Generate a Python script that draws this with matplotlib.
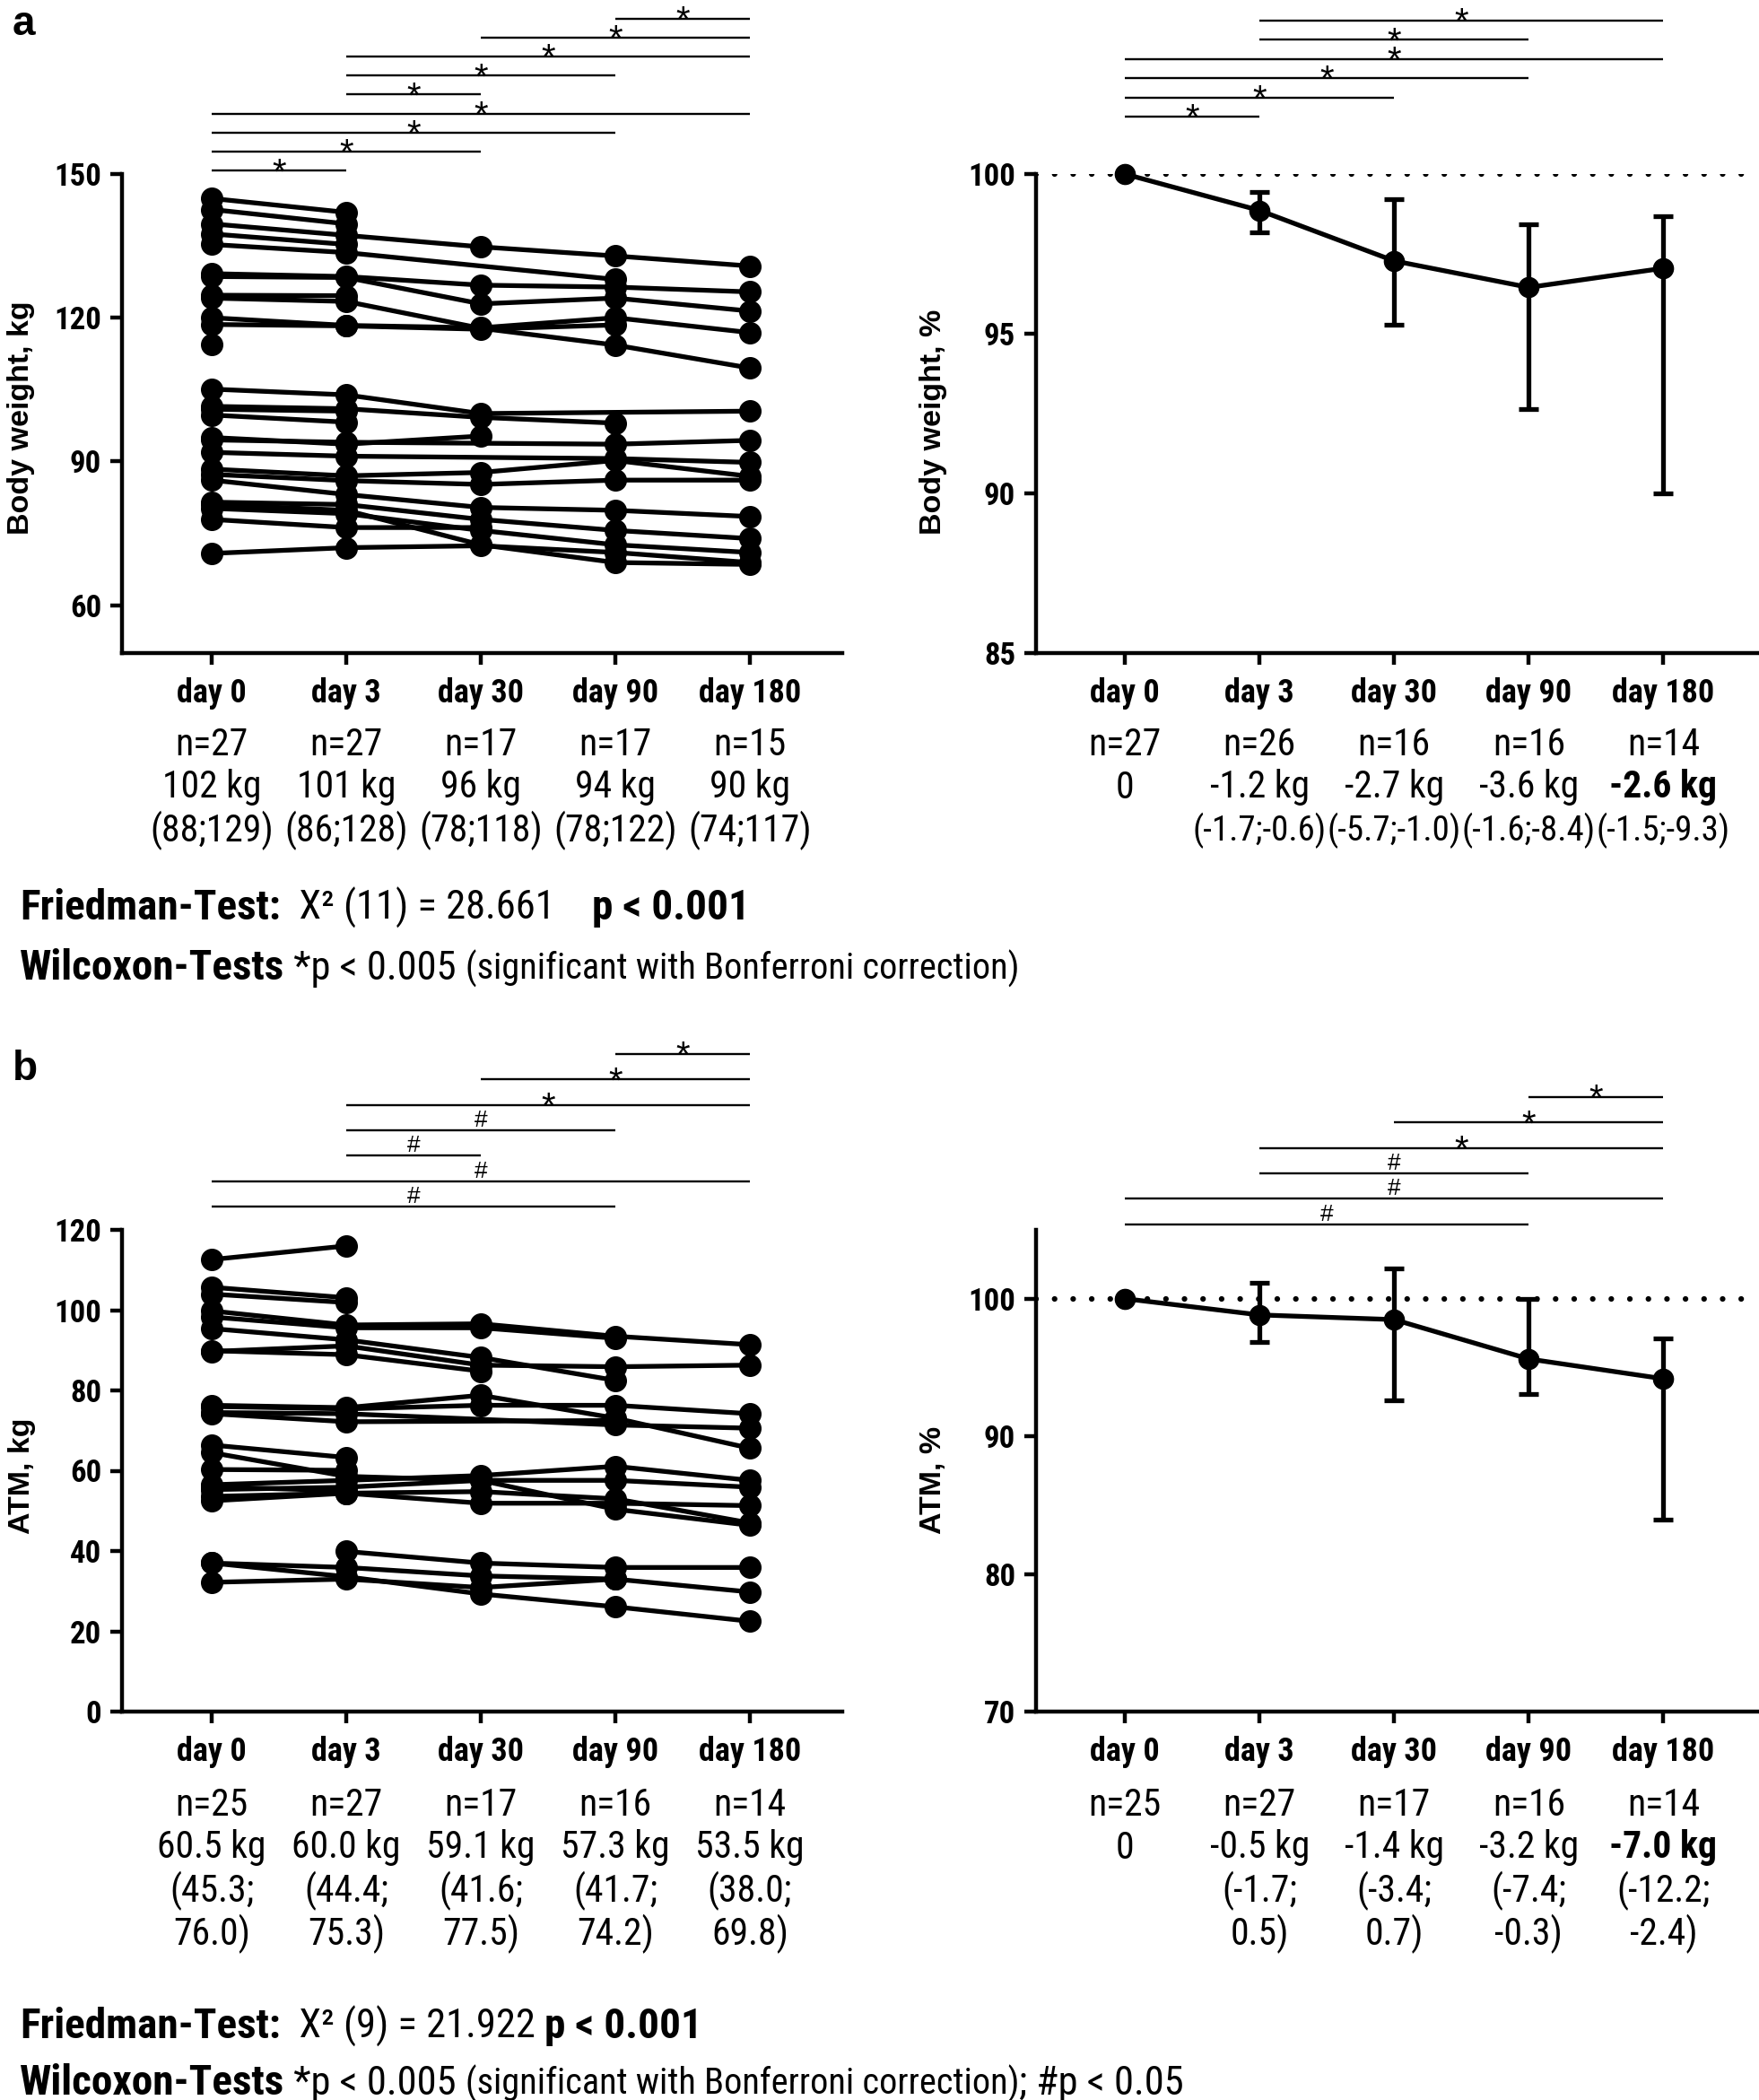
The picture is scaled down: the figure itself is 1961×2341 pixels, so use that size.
import numpy as np
import matplotlib
matplotlib.use("Agg")
import matplotlib.pyplot as plt
from matplotlib import font_manager
from matplotlib.transforms import blended_transform_factory

nan = np.nan

days = ["day 0", "day 3", "day 30", "day 90", "day 180"]

# body weight per patient, kg (day 0, 3, 30, 90, 180)
bw_kg = [
    [144.9, 142.0, nan, nan, nan],
    [142.6, 139.6, nan, nan, nan],
    [139.6, 137.2, 134.8, 132.9, 130.8],
    [137.5, 135.3, nan, nan, nan],
    [135.3, 133.6, nan, 128.0, nan],
    [129.2, 128.6, 126.8, 126.4, 125.4],
    [128.6, 128.4, 122.9, 124.1, 121.4],
    [124.7, 124.6, nan, nan, nan],
    [124.1, 123.4, 117.8, 114.3, 109.5],
    [120.0, 118.4, 117.9, 120.0, 116.9],
    [118.6, 118.3, 117.6, 118.5, nan],
    [114.5, nan, nan, nan, nan],
    [105.1, 103.9, 100.0, nan, 100.5],
    [101.5, 101.0, 99.2, 98.0, nan],
    [100.9, 100.5, nan, nan, nan],
    [99.7, 98.2, nan, nan, nan],
    [95.0, 93.6, 95.3, nan, nan],
    [94.5, 94.0, nan, 93.6, 94.4],
    [91.9, 91.1, nan, 90.6, 89.8],
    [88.4, 87.0, 87.7, 90.2, 86.9],
    [87.3, 86.0, 85.2, 86.1, 86.1],
    [86.1, 83.1, 80.4, 79.8, 78.5],
    [81.5, 81.0, 77.9, 75.6, 73.9],
    [80.2, 79.1, 75.6, 72.6, 71.0],
    [81.0, 79.8, 72.6, 68.9, 68.5],
    [77.9, 76.2, 76.2, nan, nan],
    [70.8, 72.0, 72.4, 71.0, 68.9],
]

# body weight relative to day 0, %: median and IQR bounds
bw_pct_mean = [100.0, 98.86, 97.28, 96.45, 97.05]
bw_pct_lo = [100.0, 98.18, 95.27, 92.63, 90.0]
bw_pct_hi = [100.0, 99.45, 99.22, 98.43, 98.69]

# adipose tissue mass per patient, kg
atm_kg = [
    [112.6, 116.0, nan, nan, nan],
    [105.7, 103.1, nan, nan, nan],
    [104.0, 101.9, nan, nan, nan],
    [99.8, 96.3, 96.6, 93.5, 91.4],
    [98.3, 95.6, 95.6, 93.0, nan],
    [95.4, 92.6, 88.2, 82.5, nan],
    [89.7, 91.1, 86.3, 85.9, 86.3],
    [89.9, 88.9, 84.8, nan, nan],
    [76.3, 75.7, 78.8, 73.1, 65.6],
    [76.0, 75.4, 76.3, 76.3, 74.2],
    [74.5, 74.2, nan, 71.4, 70.6],
    [74.2, 72.2, nan, 72.5, nan],
    [66.4, 63.3, nan, nan, nan],
    [64.5, 58.6, 57.6, 50.4, 46.4],
    [60.3, 60.1, nan, nan, nan],
    [56.5, 57.6, 58.8, 61.1, 57.6],
    [55.3, 55.9, 57.6, 57.6, 55.9],
    [53.6, 54.4, 54.8, 53.0, 47.0],
    [52.5, 54.4, 51.9, 51.9, 51.3],
    [56.0, 55.0, nan, nan, nan],
    [nan, 39.9, 37.0, 35.9, 35.9],
    [37.0, 35.9, 33.8, 33.0, 29.8],
    [37.0, 33.6, 29.3, 26.1, 22.5],
    [32.2, 33.0, 30.9, 33.0, nan],
]

atm_pct_mean = [100.0, 98.82, 98.48, 95.62, 94.18]
atm_pct_lo = [100.0, 96.83, 92.63, 93.1, 83.97]
atm_pct_hi = [100.0, 101.14, 102.22, 100.0, 97.1]

# table text below the panels
bw_n = ["n=27", "n=27", "n=17", "n=17", "n=15"]
bw_median = ["102 kg", "101 kg", "96 kg", "94 kg", "90 kg"]
bw_iqr = ["(88;129)", "(86;128)", "(78;118)", "(78;122)", "(74;117)"]
bw_pct_n = ["n=27", "n=26", "n=16", "n=16", "n=14"]
bw_delta = ["0", "-1.2 kg", "-2.7 kg", "-3.6 kg", "-2.6 kg"]
bw_delta_iqr = ["", "(-1.7;-0.6)", "(-5.7;-1.0)", "(-1.6;-8.4)", "(-1.5;-9.3)"]

atm_n = ["n=25", "n=27", "n=17", "n=16", "n=14"]
atm_median = ["60.5 kg", "60.0 kg", "59.1 kg", "57.3 kg", "53.5 kg"]
atm_iqr_lo = ["(45.3;", "(44.4;", "(41.6;", "(41.7;", "(38.0;"]
atm_iqr_hi = ["76.0)", "75.3)", "77.5)", "74.2)", "69.8)"]
atm_pct_n = ["n=25", "n=27", "n=17", "n=16", "n=14"]
atm_delta = ["0", "-0.5 kg", "-1.4 kg", "-3.2 kg", "-7.0 kg"]
atm_delta_lo = ["", "(-1.7;", "(-3.4;", "(-7.4;", "(-12.2;"]
atm_delta_hi = ["", "0.5)", "0.7)", "-0.3)", "-2.4)"]

# pairwise comparisons, drawn bottom to top
sig_bw_kg = [(0, 1, "*"), (0, 2, "*"), (0, 3, "*"), (0, 4, "*"), (1, 2, "*"),
             (1, 3, "*"), (1, 4, "*"), (2, 4, "*"), (3, 4, "*")]
sig_bw_pct = [(0, 1, "*"), (0, 2, "*"), (0, 3, "*"), (0, 4, "*"), (1, 3, "*"), (1, 4, "*")]
sig_atm_kg = [(0, 3, "#"), (0, 4, "#"), (1, 2, "#"), (1, 3, "#"), (1, 4, "*"), (2, 4, "*"), (3, 4, "*")]
sig_atm_pct = [(0, 3, "#"), (0, 4, "#"), (1, 3, "#"), (1, 4, "*"), (2, 4, "*"), (3, 4, "*")]

# fonts
names = {f.name for f in font_manager.fontManager.ttflist}


def pick(cands):
    for c in cands:
        if c in names:
            return c
    return "DejaVu Sans"


NARROW = pick(["Liberation Sans Narrow", "Roboto Condensed", "Open Sans Condensed", "Liberation Sans"])
ARIAL = pick(["Liberation Sans", "Arial", "DejaVu Sans"])

W, H = 1961, 2341
fig = plt.figure(figsize=(W / 100, H / 100), dpi=100)


def px_axes(left, top, right, bottom):
    return fig.add_axes([left / W, 1 - bottom / H, (right - left) / W, (bottom - top) / H])


def style(ax, ylim, yticks, xlim):
    ax.set_xlim(*xlim)
    ax.set_ylim(*ylim)
    for s in ["top", "right"]:
        ax.spines[s].set_visible(False)
    for s in ["left", "bottom"]:
        ax.spines[s].set_linewidth(3.2)
    ax.set_xticks(range(len(days)))
    ax.set_xticklabels(days)
    ax.set_yticks(yticks)
    ax.tick_params(width=3.2, length=9.5, direction="out")
    ax.tick_params(axis="x", pad=10, labelsize=26)
    ax.tick_params(axis="y", pad=7, labelsize=25)
    for lab in ax.get_xticklabels() + ax.get_yticklabels():
        lab.set_family(NARROW)
        lab.set_weight("bold")


def spaghetti(ax, rows):
    x = np.arange(len(days))
    for r in rows:
        r = np.array(r, dtype=float)
        m = ~np.isnan(r)
        ax.plot(x[m], r[m], "-o", color="k", lw=3.8, ms=17, clip_on=False)


def summary(ax, mean, lo, hi):
    x = np.arange(len(days))
    mean, lo, hi = np.array(mean), np.array(lo), np.array(hi)
    ax.axhline(100, color="k", lw=4.5, linestyle=(0, (0.01, 3.3)), dash_capstyle="round", zorder=1)
    ax.errorbar(x[1:], mean[1:], yerr=[mean[1:] - lo[1:], hi[1:] - mean[1:]], fmt="none",
                ecolor="k", elinewidth=3.8, capsize=8, capthick=3.8, clip_on=False, zorder=2)
    ax.plot(x, mean, "-o", color="k", lw=3.8, ms=16, clip_on=False, zorder=3)


def sig_bars(ax, comps, base, step):
    for k, (i, j, sym) in enumerate(comps):
        y = base + k * step
        ax.plot([i, j], [y, y], color="k", lw=1.7, clip_on=False, solid_capstyle="butt")
        if sym == "*":
            ax.annotate(sym, xy=((i + j) / 2, y), xytext=(0, -10), textcoords="offset points",
                        ha="center", va="baseline", fontsize=29, family=ARIAL, annotation_clip=False)
        else:
            ax.annotate(sym, xy=((i + j) / 2, y), xytext=(0, 3), textcoords="offset points",
                        ha="center", va="baseline", fontsize=19, family=ARIAL, annotation_clip=False)


def table(ax, rows, ys, bold_cells=(), sizes=None):
    tr = blended_transform_factory(ax.transData, fig.transFigure)
    for ri, (row, ypx) in enumerate(zip(rows, ys)):
        fs = sizes[ri] if sizes else 30
        for ci, s in enumerate(row):
            ax.text(ci, 1 - ypx / H, s, transform=tr, ha="center", va="center", fontsize=fs,
                    family=NARROW, weight="bold" if (ri, ci) in bold_cells else "normal", clip_on=False)


def rich_line(x_px, y_px, parts):
    r = fig.canvas.get_renderer()
    x = x_px
    for s, weight, size in parts:
        t = fig.text(x / W, 1 - y_px / H, s, fontsize=size, weight=weight, family=NARROW,
                     ha="left", va="baseline")
        x = t.get_window_extent(r).x1


LEFT_X = (-0.667, 4.687)
RIGHT_X = (-0.66, 4.71)

# panel a
ax1 = px_axes(136, 194, 939, 728)
style(ax1, (50, 150), [60, 90, 120, 150], LEFT_X)
spaghetti(ax1, bw_kg)
sig_bars(ax1, sig_bw_kg, 150.7, 3.97)
table(ax1, [bw_n, bw_median, bw_iqr], [830, 878, 926])

ax2 = px_axes(1155, 194, 1961, 728)
style(ax2, (85, 100), [85, 90, 95, 100], RIGHT_X)
summary(ax2, bw_pct_mean, bw_pct_lo, bw_pct_hi)
sig_bars(ax2, sig_bw_pct, 101.8, 0.6)
table(ax2, [bw_pct_n, bw_delta, bw_delta_iqr], [830, 878, 926], bold_cells={(1, 4)},
      sizes=[30, 30, 28])

fig.text(24 / W, 1 - 466 / H, "Body weight, kg", rotation=90, ha="center", va="center",
         fontsize=24.5, weight="bold", family=ARIAL)
fig.text(1040 / W, 1 - 470 / H, "Body weight, %", rotation=90, ha="center", va="center",
         fontsize=24.5, weight="bold", family=ARIAL)
fig.text(14 / W, 1 - 27 / H, "a", ha="left", va="center", fontsize=33, weight="bold", family=ARIAL)

# panel b
ax3 = px_axes(136, 1371, 939, 1908)
style(ax3, (0, 120), [0, 20, 40, 60, 80, 100, 120], LEFT_X)
spaghetti(ax3, atm_kg)
sig_bars(ax3, sig_atm_kg, 125.8, 6.33)
table(ax3, [atm_n, atm_median, atm_iqr_lo, atm_iqr_hi], [2012, 2060, 2108, 2156])

ax4 = px_axes(1155, 1371, 1961, 1908)
style(ax4, (70, 105), [70, 80, 90, 100], RIGHT_X)
summary(ax4, atm_pct_mean, atm_pct_lo, atm_pct_hi)
sig_bars(ax4, sig_atm_pct, 105.4, 1.85)
table(ax4, [atm_pct_n, atm_delta, atm_delta_lo, atm_delta_hi], [2012, 2060, 2108, 2156],
      bold_cells={(1, 4)})

fig.text(24 / W, 1 - 1645 / H, "ATM, kg", rotation=90, ha="center", va="center",
         fontsize=24.5, weight="bold", family=ARIAL)
fig.text(1040 / W, 1 - 1650 / H, "ATM, %", rotation=90, ha="center", va="center",
         fontsize=24.5, weight="bold", family=ARIAL)
fig.text(14 / W, 1 - 1192 / H, "b", ha="left", va="center", fontsize=33, weight="bold", family=ARIAL)

# test statistics
rich_line(22, 1025, [("Friedman-Test:", "bold", 34), ("  X\u00b2 (11) = 28.661", "normal", 32),
                     ("    ", "normal", 32), ("p < 0.001", "bold", 34)])
rich_line(22, 1092, [("Wilcoxon-Tests", "bold", 34), (" *p < 0.005 ", "normal", 32),
                     ("(significant with Bonferroni correction)", "normal", 29)])
rich_line(22, 2272, [("Friedman-Test:", "bold", 34), ("  X\u00b2 (9) = 21.922 ", "normal", 32),
                     ("p < 0.001", "bold", 34)])
rich_line(22, 2335, [("Wilcoxon-Tests", "bold", 34), (" *p < 0.005 ", "normal", 32),
                     ("(significant with Bonferroni correction)", "normal", 29),
                     ("; #p < 0.05", "normal", 32)])

fig.savefig("out.png", dpi=100)
